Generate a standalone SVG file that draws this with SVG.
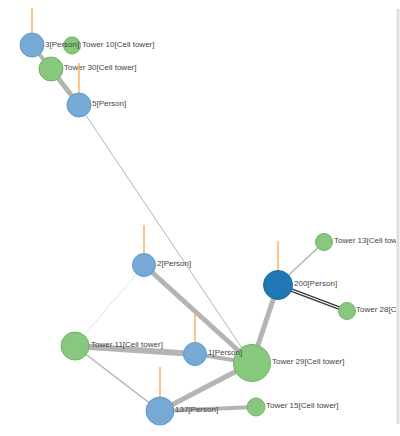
<svg xmlns="http://www.w3.org/2000/svg" width="400" height="436" viewBox="0 0 400 436">
<style>
.e{stroke:#b4b4b4;fill:none;stroke-linecap:butt}
.p{fill:#76aad4;stroke:#5f98c8;stroke-width:1}
.pd{fill:#1f77b4;stroke:#1a6aa3;stroke-width:1}
.t{fill:#88c77e;stroke:#6db562;stroke-width:1}
.s{stroke:#ffb060;stroke-width:1.5}
text{font-family:"Liberation Sans",Arial,sans-serif;font-size:8px;fill:#444}
</style>
<defs><clipPath id="cl"><rect x="0" y="0" width="396" height="436"/></clipPath></defs>
<rect width="400" height="436" fill="#fff"/>
<g clip-path="url(#cl)">
<g id="edges">
<line class="e" x1="32" y1="45" x2="51" y2="69" stroke-width="4"/>
<line class="e" x1="51" y1="69" x2="79" y2="105" stroke-width="5"/>
<line class="e" x1="79" y1="105" x2="252" y2="363" stroke-width="1"/>
<line class="e" x1="144" y1="265" x2="75" y2="346" stroke-width="0.6" style="stroke:#ccc"/>
<line class="e" x1="144" y1="265" x2="252" y2="363" stroke-width="5"/>
<line class="e" x1="75" y1="346" x2="195" y2="354" stroke-width="6"/>
<line class="e" x1="195" y1="354" x2="252" y2="363" stroke-width="4"/>
<line class="e" x1="75" y1="346" x2="160" y2="411" stroke-width="1.5"/>
<line class="e" x1="160" y1="411" x2="252" y2="363" stroke-width="5"/>
<line class="e" x1="160" y1="411" x2="256" y2="407" stroke-width="4"/>
<line class="e" x1="278" y1="285" x2="252" y2="363" stroke-width="5"/>
<line class="e" x1="278" y1="285" x2="324" y2="242" stroke-width="1.5"/>
<line x1="278" y1="285" x2="347" y2="311" stroke="#333" stroke-width="3.5"/>
<line x1="278" y1="285" x2="347" y2="311" stroke="#fff" stroke-width="1.3"/>
</g>
<g id="n-tower10"><circle class="t" cx="72" cy="45.5" r="8.5"/><text x="82" y="47">Tower 10[Cell tower]</text></g>
<g id="n-3"><line class="s" x1="32" y1="8" x2="32" y2="34"/><circle class="p" cx="32" cy="45" r="12"/><text x="45" y="47">3[Person]</text></g>
<g id="n-tower30"><circle class="t" cx="51" cy="69" r="12"/><text x="64" y="70">Tower 30[Cell tower]</text></g>
<g id="n-5"><line class="s" x1="79" y1="63" x2="79" y2="93"/><circle class="p" cx="79" cy="105" r="12"/><text x="92" y="106">5[Person]</text></g>
<g id="n-2"><line class="s" x1="144" y1="225" x2="144" y2="253"/><circle class="p" cx="144" cy="265" r="11.5"/><text x="157" y="266">2[Person]</text></g>
<g id="n-tower11"><circle class="t" cx="75" cy="346" r="14"/><text x="91" y="347">Tower 11[Cell tower]</text></g>
<g id="n-tower29"><circle class="t" cx="252" cy="363" r="18.5"/><text x="272" y="364">Tower 29[Cell tower]</text></g>
<g id="n-1"><line class="s" x1="195" y1="313" x2="195" y2="343"/><circle class="p" cx="195" cy="354" r="11.5"/><text x="208" y="355">1[Person]</text></g>
<g id="n-tower13"><circle class="t" cx="324" cy="242" r="8.5"/><text x="334" y="243">Tower 13[Cell tower]</text></g>
<g id="n-tower28"><circle class="t" cx="347" cy="311" r="8.5"/><text x="356" y="312">Tower 28[Cell tower]</text></g>
<g id="n-200"><line class="s" x1="278" y1="241" x2="278" y2="271"/><circle class="pd" cx="278" cy="285" r="14.5"/><text x="294" y="286">200[Person]</text></g>
<g id="n-tower15"><circle class="t" cx="256" cy="407" r="9"/><text x="266" y="408">Tower 15[Cell tower]</text></g>
<g id="n-137"><line class="s" x1="160" y1="367" x2="160" y2="397"/><circle class="p" cx="160" cy="411" r="14"/><text x="175" y="412">137[Person]</text></g>
</g>
<rect x="396.5" y="9" width="3" height="415" fill="#e2dfd8"/>
</svg>
